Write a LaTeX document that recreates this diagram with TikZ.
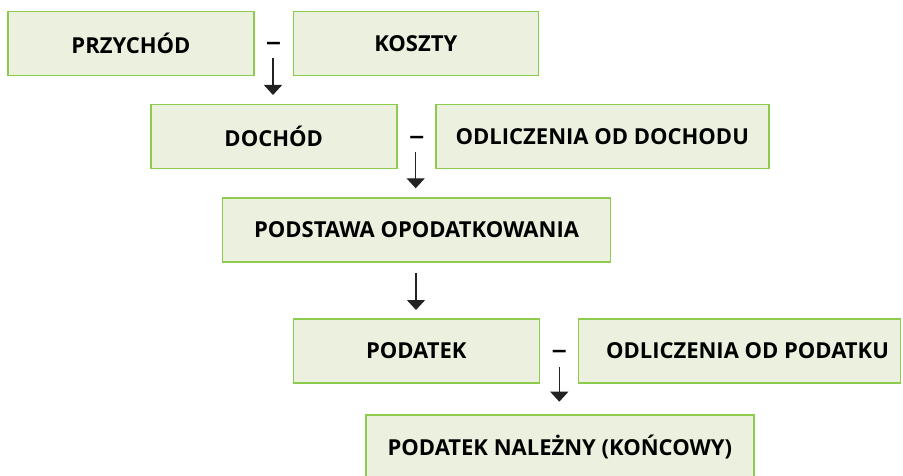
\documentclass[tikz,border=0pt]{standalone}
\usepackage{fontspec}
\setmainfont{Open Sans}
\usetikzlibrary{arrows.meta}
\definecolor{boxfill}{HTML}{EBF1DE}
\definecolor{boxline}{HTML}{8CCB4E}
\definecolor{arrowcol}{HTML}{222222}
\tikzset{
  box/.style={draw=boxline, fill=boxfill, line width=1.6pt, inner sep=0pt,
    minimum height=64pt, font=\fontsize{22}{26}\selectfont\bfseries, text=black},
  minus/.style={inner sep=0pt, font=\fontsize{22}{26}\selectfont\bfseries, text=black},
  flow/.style={draw=arrowcol, line width=1.3pt, -{Triangle[width=18pt,length=10pt]}, arrowcol}
}
\begin{document}
\begin{tikzpicture}[x=1pt,y=-1pt]
\useasboundingbox (0,0) rectangle (903,476);
\node[box, minimum width=246pt] (b1) at (131,43.5) {PRZYCHÓD};
\node[box, minimum width=245pt] (b2) at (415.8,43.5) {KOSZTY};
\node[box, minimum width=246pt] (b3) at (273.7,136.5) {DOCHÓD};
\node[box, minimum width=333pt] (b4) at (602.3,136.5) {ODLICZENIA OD DOCHODU};
\node[box, minimum width=388pt] (b5) at (416.5,230) {PODSTAWA OPODATKOWANIA};
\node[box, minimum width=246pt] (b6) at (416.3,350.8) {PODATEK};
\node[box, minimum width=322pt] (b7) at (739.5,350.8) {\hspace*{16pt}ODLICZENIA OD PODATKU};
\node[box, minimum width=388pt] (b8) at (559.8,447) {PODATEK NALEŻNY (KOŃCOWY)};
\node[minus] (m1) at (273.5,46.2) {\scalebox{1.4}[1]{–}};
\node[minus] (m2) at (416.7,139.5) {\scalebox{1.4}[1]{–}};
\node[minus] (m3) at (559.3,353.5) {\scalebox{1.4}[1]{–}};
\coordinate (a1s) at (273,58);
\coordinate (a1e) at (273,95);
\coordinate (a2s) at (415.7,151.7);
\coordinate (a2e) at (415.7,188.3);
\coordinate (a3s) at (416,272.7);
\coordinate (a3e) at (416,310);
\coordinate (a4s) at (559.3,366.7);
\coordinate (a4e) at (559.3,401.7);
\draw[flow] (a1s) -- (a1e);
\draw[flow] (a2s) -- (a2e);
\draw[flow] (a3s) -- (a3e);
\draw[flow] (a4s) -- (a4e);
\end{tikzpicture}
\end{document}
